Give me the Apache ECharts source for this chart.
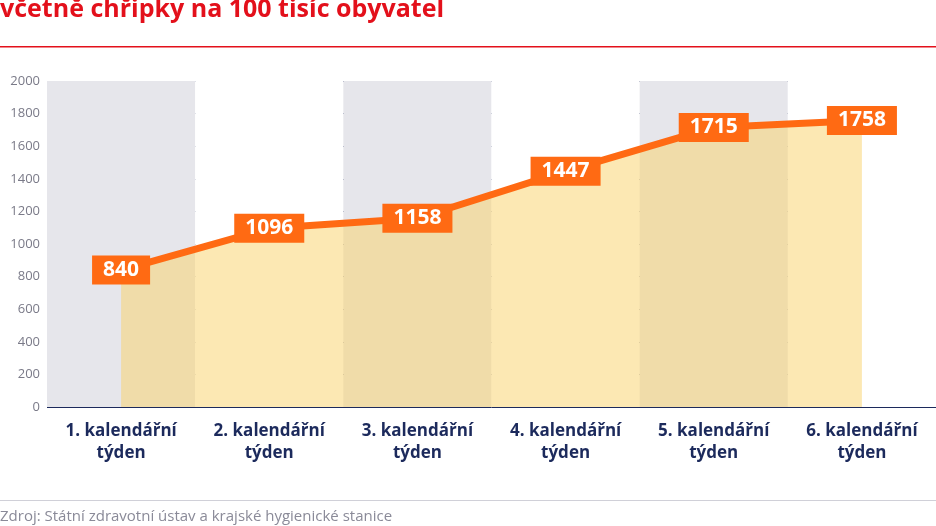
<!DOCTYPE html>
<html><head><meta charset="utf-8">
<script src="https://cdn.jsdelivr.net/npm/echarts@6/dist/echarts.min.js"></script>
<style>html,body{margin:0;padding:0;background:#fff}#c{width:936px;height:526px}</style>
</head><body><div id="c"></div>
<script>
const categories = ['1. kalendářní\ntýden','2. kalendářní\ntýden','3. kalendářní\ntýden','4. kalendářní\ntýden','5. kalendářní\ntýden','6. kalendářní\ntýden'];
const values = [840, 1096, 1158, 1447, 1715, 1758];
const chart = echarts.init(document.getElementById('c'));
chart.setOption({
  animation:false,
  graphic:[
    {type:'text',left:0,top:-3,style:{text:'včetně chřipky na 100 tisíc obyvatel',fill:'#e3101b',font:'bold 25px "Open Sans", sans-serif'}},
    {type:'rect',shape:{x:0,y:46,width:936,height:1.5},style:{fill:'#e3101b'}},
    {type:'rect',shape:{x:0,y:500,width:936,height:1},style:{fill:'#d0d0d8'}},
    {type:'text',left:0,top:509,style:{text:'Zdroj: Státní zdravotní ústav a krajské hygienické stanice',fill:'#8a8a98',font:'15px "Open Sans", sans-serif'}}
  ],
  grid:{left:47,right:0,top:81,bottom:119},
  xAxis:{type:'category',data:categories,boundaryGap:true,
    axisLine:{show:false},axisTick:{show:false},
    splitArea:{show:true,interval:0,areaStyle:{color:['#e6e6eb','#ffffff']}},
    axisLabel:{color:'#1c2a5c',fontWeight:'bold',fontSize:17,lineHeight:22,margin:13,interval:0,fontFamily:'Open Sans'}},
  yAxis:{type:'value',min:0,max:2000,interval:200,
    axisLabel:{color:'#7a7a88',fontSize:13,margin:7,fontFamily:'Open Sans',formatter:v=>String(v)},
    axisLine:{show:false},axisTick:{show:false},
    splitLine:{lineStyle:{color:'#1c2a5c',width:1}}},
  series:[{type:'line',data:values,symbol:'rect',symbolSize:1,
    lineStyle:{color:'#ff6a13',width:7},itemStyle:{color:'#ff6a13'},
    areaStyle:{color:'rgba(250,212,110,0.75)',origin:'start'},
    label:{show:true,position:'inside',backgroundColor:'#ff6a13',color:'#fff',fontWeight:'bold',fontSize:21,padding:[5,11,3,11],fontFamily:'Open Sans'}
  }]
});
</script></body></html>
